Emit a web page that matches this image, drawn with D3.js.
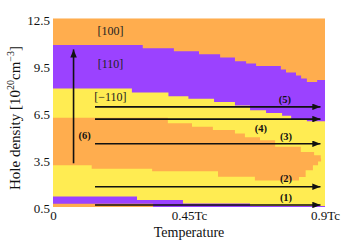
<!DOCTYPE html>
<html><head><meta charset="utf-8">
<script src="https://cdn.jsdelivr.net/npm/d3@7"></script>
<style>body{margin:0;background:#fff}svg{display:block}text{font-family:"Liberation Serif","Times New Roman",serif}</style>
</head><body>
<svg id="c" width="359" height="240"></svg>
<script>
// boundaries (temperature in Tc, hole density in 1e20 cm^-3), step functions
const tA = [0, 0.297, 0.400, 0.483, 0.553, 0.602, 0.639, 0.672, 0.754, 0.771, 0.804, 0.821, 0.840, 0.874];
const nA = [10.81, 10.60, 10.41, 10.21, 10.00, 9.77, 9.63, 9.47, 9.24, 9.05, 8.86, 8.67, 8.45, 8.57];
const tB = [0, 0.261, 0.382, 0.448, 0.533, 0.602, 0.652, 0.705, 0.758, 0.788, 0.840];
const nB = [8.03, 7.78, 7.55, 7.38, 7.17, 6.96, 6.66, 6.47, 6.31, 6.09, 5.96];
const tC = [0, 0.380, 0.460, 0.529, 0.602, 0.635, 0.685, 0.735, 0.820, 0.864, 0.886];
const nC = [6.17, 5.83, 5.61, 5.40, 5.17, 4.94, 4.75, 4.33, 4.00, 3.79, 3.58];
const tD = [0, 0.128, 0.328, 0.546, 0.668, 0.814, 0.836, 0.860, 0.877, 0.887];
const nD = [3.15, 2.94, 2.77, 2.42, 2.19, 2.40, 2.83, 3.15, 3.40, 3.70];
const tE = [0, 0.278, 0.430, 0.652];
const nE = [1.17, 0.95, 0.72, 0.56];
const tF = [0, 0.331];
const nF = [0.70, 0.50];

const phaseNames = ["[100]", "[110]", "[\u2212110]"];
const phaseT = [0.19, 0.19, 0.19];
const phaseN = [11.7, 9.6, 7.52];

const arrowNames = ["(1)", "(2)", "(3)", "(4)", "(5)"];
const arrowN = [0.63, 1.79, 4.52, 6.09, 6.87];
const arrowT0 = 0.139, arrowT1 = 0.885;
const arrowLabelT = [0.771, 0.771, 0.771, 0.688, 0.767];
const arrowLabelN = [1.12, 2.33, 4.97, 5.49, 7.35];
const vArrow = {t: 0.068, n0: 3.28, n1: 10.52, label: "(6)", lt: 0.105, ln: 5.08};

const yTicks = [0.5, 3.5, 6.5, 9.5, 12.5];
const xTicks = [0, 0.45, 0.9];
const xTickLabels = ["0", "0.45Tc", "0.9Tc"];

const ORANGE = "#FFAD4E", PURPLE = "#9B42FF", YELLOW = "#FFEC52";

const svg = d3.select("#c");
const x = d3.scaleLinear().domain([0, 0.9]).range([53, 325]);
const y = d3.scaleLinear().domain([0.5, 12.5]).range([207, 18.3]);

const defs = svg.append("defs");
defs.append("clipPath").attr("id", "clip").append("rect")
  .attr("x", x(0)).attr("y", y(12.5)).attr("width", x(0.9) - x(0)).attr("height", y(0.5) - y(12.5));
defs.append("marker").attr("id", "ah").attr("viewBox", "0 0 10 8").attr("refX", 10).attr("refY", 4)
  .attr("markerWidth", 8.5).attr("markerHeight", 6.5).attr("markerUnits", "userSpaceOnUse").attr("orient", "auto")
  .append("path").attr("d", "M0,0L10,4L0,8Z").attr("fill", "#111");

const g = svg.append("g").attr("clip-path", "url(#clip)");
g.append("rect").attr("x", x(0)).attr("y", y(12.5)).attr("width", x(0.9) - x(0)).attr("height", y(0.5) - y(12.5)).attr("fill", ORANGE);

const area = d3.area().curve(d3.curveStepAfter).x(d => x(d[0])).y0(y(0.5)).y1(d => y(d[1]));
function layer(ts, ns, col) {
  const pts = ts.map((t, i) => [t, ns[i]]);
  pts.push([0.9, ns[ns.length - 1]]);
  g.append("path").datum(pts).attr("d", area).attr("fill", col);
}
layer(tA, nA, PURPLE);
layer(tB, nB, YELLOW);
layer(tC, nC, ORANGE);
layer(tD, nD, YELLOW);
layer(tE, nE, PURPLE);
layer(tF, nF, ORANGE);

// phase labels
phaseNames.forEach((s, i) => {
  svg.append("text").attr("x", x(phaseT[i])).attr("y", y(phaseN[i])).attr("dy", "0.35em")
    .attr("text-anchor", "middle").attr("font-size", 12).attr("fill", "#222").text(s);
});

// horizontal arrows
arrowN.forEach((n, i) => {
  svg.append("line").attr("x1", x(arrowT0)).attr("x2", x(arrowT1)).attr("y1", y(n)).attr("y2", y(n))
    .attr("stroke", "#111").attr("stroke-width", 1.6).attr("marker-end", "url(#ah)");
  svg.append("text").attr("x", x(arrowLabelT[i])).attr("y", y(arrowLabelN[i])).attr("dy", "0.35em")
    .attr("text-anchor", "middle").attr("font-size", 10.5).attr("font-weight", "bold").attr("fill", "#111").text(arrowNames[i]);
});
// vertical arrow
svg.append("line").attr("x1", x(vArrow.t)).attr("x2", x(vArrow.t)).attr("y1", y(vArrow.n0)).attr("y2", y(vArrow.n1))
  .attr("stroke", "#111").attr("stroke-width", 1.6).attr("marker-end", "url(#ah)");
svg.append("text").attr("x", x(vArrow.lt)).attr("y", y(vArrow.ln)).attr("dy", "0.35em")
  .attr("text-anchor", "middle").attr("font-size", 10.5).attr("font-weight", "bold").attr("fill", "#111").text(vArrow.label);

// axes
const yAxis = d3.axisLeft(y).tickValues(yTicks).tickFormat(d3.format(".1f")).tickSize(0).tickPadding(3);
const ya = svg.append("g").attr("transform", `translate(${x(0)},0)`).call(yAxis);
ya.select(".domain").remove();
ya.selectAll("text").attr("font-size", 13).attr("font-family", "Liberation Serif").attr("fill", "#111").attr("dy", "0.45em");

const xAxis = d3.axisBottom(x).tickValues(xTicks).tickFormat((d, i) => xTickLabels[i]).tickSize(0).tickPadding(4);
const xa = svg.append("g").attr("transform", `translate(0,${y(0.5)})`).call(xAxis);
xa.select(".domain").remove();
xa.selectAll("text").attr("font-size", 13).attr("font-family", "Liberation Serif").attr("fill", "#111");

svg.append("text").attr("x", x(0.45)).attr("y", 236.5).attr("text-anchor", "middle").attr("font-size", 14).attr("fill", "#111").text("Temperature");

const yl = svg.append("text").attr("transform", "translate(20,118) rotate(-90)").attr("text-anchor", "middle")
  .attr("font-size", 15).attr("fill", "#111");
yl.append("tspan").text("Hole density [10");
yl.append("tspan").attr("font-size", 10).attr("dy", -6).text("20");
yl.append("tspan").attr("dy", 6).text("cm");
yl.append("tspan").attr("font-size", 10).attr("dy", -6).text("\u22123");
yl.append("tspan").attr("dy", 6).text("]");
</script>
</body></html>
